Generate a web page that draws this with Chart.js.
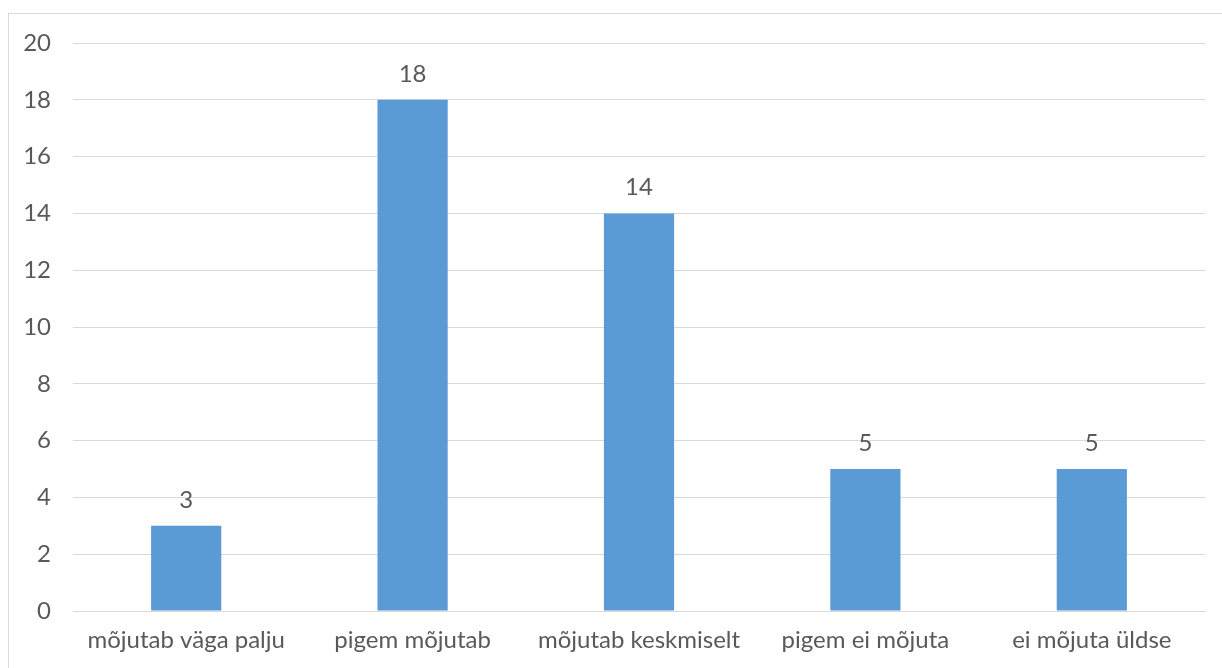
<!DOCTYPE html>
<html>
<head>
<meta charset="utf-8">
<script src="https://cdn.jsdelivr.net/npm/chart.js@4.4.1/dist/chart.umd.min.js"></script>
<style>
  html, body { margin: 0; padding: 0; background: #fff; overflow: hidden; }
  #wrap { position: relative; width: 1222px; height: 668px; }
  #frame {
    position: absolute; left: 8px; top: 13px; width: 1230px; height: 700px;
    border: 1px solid #d9d9d9; box-sizing: border-box;
  }
  canvas { position: absolute; left: 0; top: 0; }
</style>
</head>
<body>
<div id="wrap">
  <div id="frame"></div>
  <canvas id="chart" width="1222" height="668"></canvas>
</div>
<script>
const categories = ['mõjutab väga palju', 'pigem mõjutab', 'mõjutab keskmiselt', 'pigem ei mõjuta', 'ei mõjuta üldse'];
const counts = [3, 18, 14, 5, 5];
const yTicks = [0, 2, 4, 6, 8, 10, 12, 14, 16, 18, 20];

const textColor = '#595959';
const fontFamily = 'Lato, "Noto Sans", sans-serif';
const fontSize = 24;

// value labels above each bar
const barLabels = {
  id: 'barLabels',
  afterDatasetsDraw(chart) {
    const ctx = chart.ctx;
    const meta = chart.getDatasetMeta(0);
    ctx.save();
    ctx.fillStyle = textColor;
    ctx.font = fontSize + 'px ' + fontFamily;
    ctx.textAlign = 'center';
    ctx.textBaseline = 'middle';
    meta.data.forEach((bar, i) => {
      ctx.fillText(String(counts[i]), bar.x, bar.y - 26);
    });
    ctx.restore();
  }
};

new Chart(document.getElementById('chart'), {
  type: 'bar',
  data: {
    labels: categories,
    datasets: [{
      data: counts,
      backgroundColor: '#5b9bd5',
      borderWidth: 0,
      categoryPercentage: 1,
      barPercentage: 0.31
    }]
  },
  options: {
    responsive: false,
    animation: false,
    layout: { padding: { top: 43, right: 17, bottom: 0, left: 0 } },
    plugins: {
      legend: { display: false },
      tooltip: { enabled: false }
    },
    scales: {
      x: {
        grid: { display: false, drawTicks: false },
        border: { color: '#d9d9d9', width: 1 },
        ticks: {
          color: textColor,
          font: { family: fontFamily, size: fontSize },
          padding: 15,
          maxRotation: 0
        },
        afterFit(scale) { scale.height = 57; }
      },
      y: {
        min: 0,
        max: 20,
        afterBuildTicks(scale) { scale.ticks = yTicks.map(v => ({ value: v })); },
        grid: { color: '#d9d9d9', lineWidth: 1, drawTicks: false },
        border: { display: false },
        ticks: {
          color: textColor,
          font: { family: fontFamily, size: fontSize },
          padding: 22
        },
        afterFit(scale) { scale.width = 73; }
      }
    }
  },
  plugins: [barLabels]
});
</script>
</body>
</html>
